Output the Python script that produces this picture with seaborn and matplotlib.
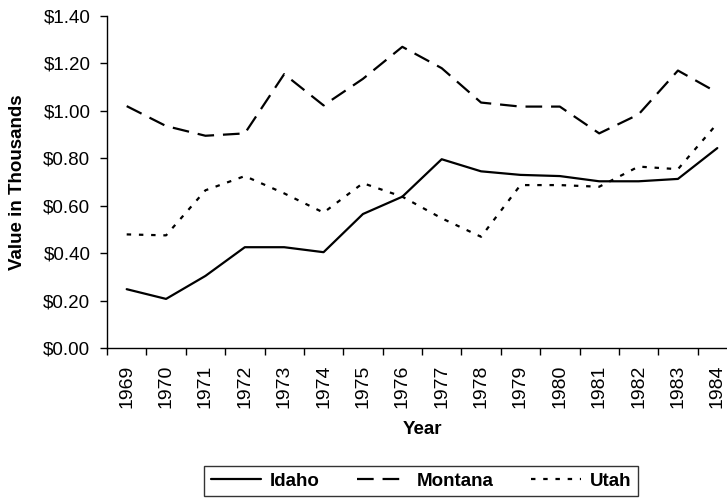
import matplotlib
matplotlib.use("Agg")
import matplotlib.pyplot as plt
import seaborn as sns
import pandas as pd
import numpy as np
from matplotlib.ticker import FixedLocator, FuncFormatter

years = list(range(1969, 1985))
idaho = [0.248, 0.207, 0.304, 0.425, 0.425, 0.404, 0.565, 0.638, 0.796, 0.745,
         0.730, 0.725, 0.703, 0.703, 0.713, 0.843]
montana = [1.020, 0.936, 0.895, 0.905, 1.155, 1.023, 1.135, 1.270, 1.180, 1.035,
           1.018, 1.018, 0.905, 0.985, 1.170, 1.077]
utah = [0.479, 0.475, 0.665, 0.725, 0.652, 0.571, 0.695, 0.638, 0.547, 0.469,
        0.687, 0.687, 0.680, 0.765, 0.754, 0.947]
series_names = ["Idaho", "Montana", "Utah"]

df = pd.DataFrame({
    "Year": years * 3,
    "Value": idaho + montana + utah,
    "State": [s for s in series_names for _ in years],
})

sns.set_theme(style="white")
plt.rcParams["font.family"] = ["Liberation Sans", "DejaVu Sans"]

fig = plt.figure(figsize=(7.27, 4.99), dpi=100)
ax = fig.add_axes([107/727, (499-348)/499, 630/727, 332/499])

sns.lineplot(data=df, x="Year", y="Value", style="State", color="black",
             dashes={"Idaho": "", "Montana": (7.5, 4), "Utah": (2, 3.5)},
             linewidth=1.6, ax=ax, legend=True, sort=False)

ax.set_xlim(1968.5, 1984.5)
ax.set_ylim(0, 1.4)
ax.set_yticks(np.arange(0, 1.41, 0.2))
ax.yaxis.set_major_formatter(FuncFormatter(lambda v, p: f"${v:.2f}"))
ax.set_xticks(years)
ax.set_xticklabels([str(y) for y in years], rotation=90)
ax.xaxis.set_minor_locator(FixedLocator(np.arange(1968.5, 1985, 1)))
ax.tick_params(axis="x", which="major", length=0, pad=12, labelsize=14, colors="black")
ax.tick_params(axis="x", which="minor", length=5, width=1, color="black", direction="out", bottom=True)
ax.tick_params(axis="y", which="major", length=5, width=1, color="black", direction="out", left=True,
               labelsize=13.5, pad=7, labelcolor="black")

for s in ["top", "right"]:
    ax.spines[s].set_visible(False)
for s in ["left", "bottom"]:
    ax.spines[s].set_color("black")
    ax.spines[s].set_linewidth(1)

ax.set_xlabel("Year", fontsize=13.5, fontweight="bold", color="black", va="center")
ax.xaxis.set_label_coords(0.5, -(430-348)/332)
ax.set_ylabel("Value in Thousands", fontsize=13.5, fontweight="bold", color="black")
ax.yaxis.set_label_coords(-(107-18)/630, 0.5)
ax.yaxis.label.set_va("center")

handles, labels = ax.get_legend_handles_labels()
ax.get_legend().remove()
leg = fig.legend(handles, labels, loc="center", bbox_to_anchor=(421/727, 1-481/499),
                 ncol=3, frameon=True, fancybox=False, edgecolor="black",
                 prop={"weight": "bold", "size": 13.5}, handlelength=2.7,
                 columnspacing=2.0, borderpad=0.35, handletextpad=0.45)
leg.get_frame().set_linewidth(1)
for t in leg.get_texts():
    t.set_color("black")

fig.savefig("out.png", dpi=100, facecolor="white")
